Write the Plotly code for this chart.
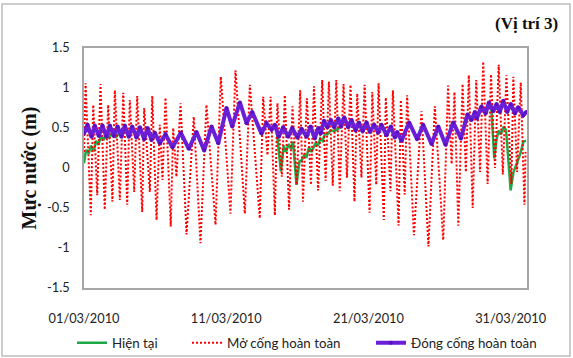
import pandas as pd
import plotly.graph_objects as go

BASE = pd.Timestamp("2010-03-01")

# ---- data (days since 01/03/2010 00:00, water level in m) ----
red_days = [0.00, 0.11, 0.48, 0.65, 0.93, 1.16, 1.46, 1.70, 2.00, 2.17, 2.52, 2.76, 3.04, 3.22,
            3.53, 3.74, 4.09, 4.23, 4.63, 4.80, 5.10, 5.33, 5.52, 5.73, 6.10, 6.27, 6.50, 6.79,
            7.21, 7.72, 8.19, 8.61, 9.25, 9.62, 10.30, 10.65, 11.31, 11.66, 12.36, 12.60, 12.90,
            13.12, 13.42, 13.60, 13.91, 14.12, 14.42, 14.66, 14.96, 15.20, 15.40, 15.67, 15.96,
            16.17, 16.46, 16.75, 16.99, 17.22, 17.49, 17.74, 17.98, 18.25, 18.49, 18.74, 19.02,
            19.21, 19.51, 19.73, 20.08, 20.27, 20.55, 20.71, 21.08, 21.22, 21.55, 21.72, 22.12,
            22.28, 22.55, 22.72, 23.20, 23.73, 24.22, 24.67, 25.26, 25.60, 25.85, 26.05, 26.32,
            26.62, 26.85, 27.06, 27.33, 27.58, 27.85, 28.07, 28.38, 28.62, 28.90, 29.16, 29.45,
            29.70, 30.05, 30.19, 30.45, 30.71, 30.97, 31.05]
red_vals = [0.20, 1.06, -0.59, 0.79, -0.34, 1.05, -0.52, 0.79, -0.42, 0.97, -0.40, 0.94, -0.46, 0.85,
            -0.30, 0.90, -0.55, 0.75, -0.30, 0.90, -0.65, 0.54, -0.15, 0.88, -0.73, 0.50, -0.11, 0.81,
            -0.83, 0.64, -0.94, 0.79, -0.71, 1.14, -0.57, 1.22, -0.57, 1.04, -0.63, 0.89, 0.16,
            0.89, -0.59, 0.81, -0.11, 0.91, -0.52, 0.77, -0.21, 0.97, -0.42, 0.87, -0.21,
            1.02, -0.28, 1.10, -0.16, 1.08, -0.22, 1.10, -0.29, 1.05, -0.12, 1.04, -0.42,
            0.93, -0.12, 1.04, -0.56, 0.95, -0.21, 1.06, -0.65, 0.88, -0.29, 0.97, -0.72,
            0.85, -0.33, 0.91, -0.84, 0.71, -0.98, 0.77, -0.90, 1.03, 0.05, 0.95, -0.72,
            1.05, -0.05, 1.16, -0.50, 1.10, -0.05, 1.33, -0.20, 1.17, 0.00, 1.29, -0.08,
            1.16, -0.20, 1.14, -0.05, 1.07, -0.46, 0.20]

purple_days = [0.00, 0.25, 0.53, 0.76, 1.04, 1.30, 1.58, 1.82, 2.10, 2.36, 2.64, 2.87, 3.15, 3.39,
               3.69, 3.93, 4.23, 4.47, 4.75, 4.98, 5.33, 5.73, 6.22, 6.81, 7.37, 7.91, 8.45, 8.97,
               9.44, 10.02, 10.42, 10.96, 11.43, 11.83, 12.48, 12.83, 13.19, 13.42, 13.70, 14.00,
               14.36, 14.64, 15.01, 15.30, 15.65, 15.93, 16.23, 16.47, 16.65, 16.87, 17.12, 17.36,
               17.59, 17.88, 18.06, 18.30, 18.58, 18.81, 19.09, 19.33, 19.59, 19.87, 20.10, 20.41,
               20.69, 20.92, 21.27, 21.58, 21.86, 22.02, 22.33, 22.86, 23.42, 23.85, 24.44, 24.91,
               25.42, 25.96, 26.50, 26.97, 27.25, 27.48, 27.62, 27.95, 28.24, 28.47, 28.78, 29.01,
               29.24, 29.48, 29.76, 30.01, 30.30, 30.53, 30.89, 31.10]
purple_vals = [0.43, 0.54, 0.39, 0.53, 0.40, 0.53, 0.39, 0.53, 0.40, 0.52, 0.39, 0.53, 0.39, 0.52,
               0.38, 0.51, 0.36, 0.50, 0.35, 0.44, 0.31, 0.42, 0.26, 0.44, 0.24, 0.45, 0.22, 0.52,
               0.31, 0.75, 0.52, 0.82, 0.56, 0.70, 0.43, 0.56, 0.48, 0.54, 0.39, 0.51,
               0.39, 0.50, 0.38, 0.49, 0.39, 0.52, 0.37, 0.50, 0.43, 0.59, 0.51, 0.60,
               0.51, 0.62, 0.52, 0.63, 0.51, 0.60, 0.47, 0.57, 0.46, 0.57, 0.45, 0.54,
               0.44, 0.54, 0.41, 0.52, 0.38, 0.45, 0.34, 0.57, 0.36, 0.54, 0.30, 0.52,
               0.29, 0.57, 0.37, 0.67, 0.60, 0.70, 0.62, 0.77, 0.68, 0.82, 0.71, 0.80,
               0.70, 0.84, 0.70, 0.80, 0.68, 0.76, 0.66, 0.70]

green_seg1_days = [0.00, 0.15, 0.33, 0.48, 0.68, 0.85, 1.01, 1.20, 1.39, 1.55, 1.78, 2.03, 2.26, 2.55, 2.75]
green_seg1_vals = [0.06, 0.23, 0.18, 0.28, 0.21, 0.34, 0.29, 0.40, 0.35, 0.43, 0.38, 0.45, 0.39, 0.45, 0.50]
green_seg2_days = [13.55, 13.84, 14.05, 14.20, 14.40, 14.55, 14.70, 14.94, 15.15, 15.32, 15.48, 15.65,
                   15.82, 16.00, 16.30, 16.45, 16.62, 16.78, 16.95, 17.12, 17.35, 17.60, 17.85, 18.06, 18.30]
green_seg2_vals = [0.47, -0.04, 0.28, 0.20, 0.30, 0.24, 0.33, -0.21, 0.08, 0.10, 0.16, 0.14,
                   0.26, 0.20, 0.32, 0.28, 0.37, 0.34, 0.43, 0.42, 0.47, 0.46, 0.49, 0.51, 0.55]
green_seg3_days = [28.62, 28.85, 29.00, 29.15, 29.30, 29.52, 29.68, 30.00, 30.20, 30.45, 30.65, 30.90, 31.08]
green_seg3_vals = [0.80, 0.12, 0.35, 0.47, 0.42, 0.52, 0.47, -0.28, -0.05, 0.08, 0.16, 0.33, 0.34]

series_names = ["Hiện tại", "Mở cống hoàn toàn", "Đóng cống hoàn toàn"]
tick_days = [0, 10, 20, 30]
y_ticks = [-1.5, -1, -0.5, 0, 0.5, 1, 1.5]


def to_dates(days):
    return [BASE + pd.Timedelta(days=d) for d in days]


green_x, green_y = [], []
for dd, vv in [(green_seg1_days, green_seg1_vals), (green_seg2_days, green_seg2_vals),
               (green_seg3_days, green_seg3_vals)]:
    if green_x:
        green_x.append(None)
        green_y.append(None)
    green_x += to_dates(dd)
    green_y += vv

W, H = 573, 358
L, R, T, B = 84, 46, 48, 70
pw, ph = W - L - R, H - T - B

fig = go.Figure()
fig.add_trace(go.Scatter(x=green_x, y=green_y, name=series_names[0], mode="lines",
                         line=dict(color="#1FA846", width=2.5), connectgaps=False,
                         legend="legend"))
fig.add_trace(go.Scatter(x=to_dates(red_days), y=red_vals, name=series_names[1], mode="lines",
                         line=dict(color="#FF0000", width=2, dash="2px,2px"),
                         legend="legend2"))
fig.add_trace(go.Scatter(x=to_dates(purple_days), y=purple_vals, name=series_names[2],
                         mode="lines+markers",
                         line=dict(color="#6A1FD6", width=4),
                         marker=dict(color="#5A10C0", size=4),
                         legend="legend3"))

font_sans = "Lato, 'Open Sans', sans-serif"
font_serif = "'Liberation Serif', 'DejaVu Serif', serif"


def leg(xpx):
    return dict(orientation="h", xref="container", yref="container",
                x=xpx / W, y=1 - 343 / H, xanchor="left", yanchor="middle",
                font=dict(family=font_sans, size=13.3, color="#222"),
                bgcolor="rgba(0,0,0,0)")


fig.update_layout(
    width=W, height=H,
    margin=dict(l=L, r=R, t=T, b=B, autoexpand=False),
    paper_bgcolor="white", plot_bgcolor="white",
    showlegend=True,
    legend=leg(72), legend2=leg(187), legend3=leg(371),
    font=dict(family=font_sans, size=12.5, color="#222"),
)

fig.update_xaxes(
    type="date",
    range=[BASE, BASE + pd.Timedelta(days=31.15)],
    tickvals=to_dates(tick_days),
    tickformat="%d/%m/%Y",
    ticks="", ticklabelstandoff=18,
    automargin=False,
    showgrid=False, zeroline=False,
    showline=True, linecolor="#A6A6A6", linewidth=1.5, mirror=True,
    tickfont=dict(family=font_sans, size=12.8, color="#222"),
)
fig.update_yaxes(
    range=[-1.5, 1.5],
    tickvals=y_ticks,
    ticktext=[("%g" % v) for v in y_ticks],
    ticks="", ticklabelstandoff=10,
    automargin=False,
    showgrid=False, zeroline=False,
    showline=True, linecolor="#A6A6A6", linewidth=1.5, mirror=True,
    tickfont=dict(family=font_sans, size=12.8, color="#222"),
    title=dict(text="<b>Mực nước (m)</b>", standoff=5,
               font=dict(family=font_serif, size=20, color="#111")),
)

fig.add_annotation(text="<b>(Vị trí 3)</b>", xref="paper", yref="paper",
                   x=(560 - L) / pw, y=(H - B - 24) / ph, xanchor="right", yanchor="middle",
                   showarrow=False, font=dict(family=font_serif, size=17, color="#111"))

fig.add_shape(type="rect", xref="paper", yref="paper",
              x0=(2 - L) / pw, x1=(570 - L) / pw,
              y0=(H - B - 356) / ph, y1=(H - B - 4) / ph,
              line=dict(color="#BDBDBD", width=1.5), layer="below")

fig.write_html("out.html")
